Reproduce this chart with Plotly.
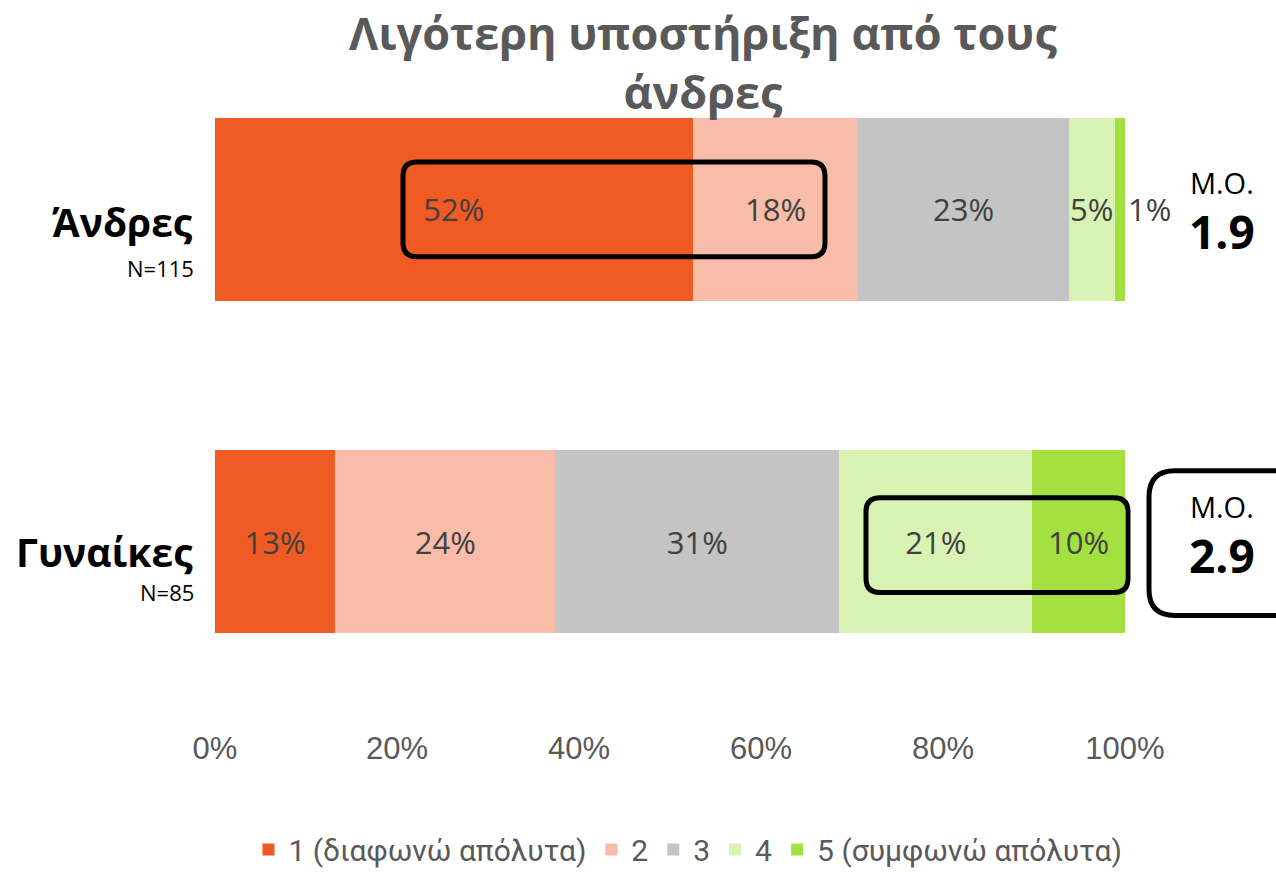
import plotly.graph_objects as go

categories = ["Άνδρες", "Γυναίκες"]
sample_sizes = ["N=115", "N=85"]
series_names = ["1 (διαφωνώ απόλυτα)", "2", "3", "4", "5 (συμφωνώ απόλυτα)"]
colors = ["#F05B24", "#F8BCA8", "#C4C4C4", "#D8F3B4", "#A3E040"]
values = [
    [52.5, 13.2],
    [18.2, 24.2],
    [23.1, 31.2],
    [5.1, 21.2],
    [1.1, 10.2],
]
means = ["1.9", "2.9"]
title_text = "Λιγότερη υποστήριξη από τους<br>άνδρες"
tick_vals = [0, 20, 40, 60, 80, 100]
tick_text = ["0%", "20%", "40%", "60%", "80%", "100%"]

W, H = 1276, 872
L, R, T, B = 215, 1125, 43, 708.5


def px2x(px):
    return (px - L) / (R - L)


def px2y(py):
    return (B - py) / (B - T)


def rounded_rect(x0, y0, x1, y1, r):
    def P(px, py):
        return f"{px2x(px):.5f},{px2y(py):.5f}"
    return (f"M {P(x0 + r, y0)} L {P(x1 - r, y0)} Q {P(x1, y0)} {P(x1, y0 + r)} "
            f"L {P(x1, y1 - r)} Q {P(x1, y1)} {P(x1 - r, y1)} "
            f"L {P(x0 + r, y1)} Q {P(x0, y1)} {P(x0, y1 - r)} "
            f"L {P(x0, y0 + r)} Q {P(x0, y0)} {P(x0 + r, y0)} Z")


fig = go.Figure()
for i, (name, vals) in enumerate(zip(series_names, values)):
    tp = ["outside", "inside"] if i == len(series_names) - 1 else "inside"
    fig.add_trace(go.Bar(
        y=categories, x=vals, name=name, orientation="h",
        marker=dict(color=colors[i], line=dict(width=0)),
        text=[f"{v:.0f}%" for v in vals],
        textposition=tp,
        insidetextanchor="middle",
        textangle=0,
        textfont=dict(family="Open Sans", size=31, color="#404040"),
        cliponaxis=False,
        hoverinfo="skip",
    ))

annotations = []
label_pos = [(222, 268), (552, 592)]
for cat, n, (yc, yn) in zip(categories, sample_sizes, label_pos):
    annotations.append(dict(xref="paper", yref="paper", x=px2x(195), y=px2y(yc),
                            xanchor="right", yanchor="middle", showarrow=False,
                            text=f"<b>{cat}</b>",
                            font=dict(family="Open Sans", size=39, color="#000000")))
    annotations.append(dict(xref="paper", yref="paper", x=px2x(196), y=px2y(yn),
                            xanchor="right", yanchor="middle", showarrow=False,
                            text=n,
                            font=dict(family="Open Sans", size=22, color="#000000")))

mean_centers = [213, 537]
for m, yc in zip(means, mean_centers):
    annotations.append(dict(xref="paper", yref="paper", x=px2x(1222), y=px2y(yc),
                            xanchor="center", yanchor="middle", showarrow=False,
                            text=("<span style='font-size:29px'>Μ.Ο.</span><br>"
                                  f"<span style='font-size:46px'><b>{m}</b></span>"),
                            font=dict(family="Open Sans", size=42, color="#000000")))

annotations.append(dict(xref="paper", yref="paper", x=px2x(703), y=px2y(62),
                        xanchor="center", yanchor="middle", showarrow=False,
                        text=f"<b>{title_text}</b>",
                        font=dict(family="Open Sans", size=45, color="#595959")))

shapes = [
    dict(type="path", xref="paper", yref="paper",
         path=rounded_rect(403, 162, 825, 257, 14),
         line=dict(color="#000000", width=5)),
    dict(type="path", xref="paper", yref="paper",
         path=rounded_rect(866, 498, 1128, 593, 14),
         line=dict(color="#000000", width=5)),
    dict(type="path", xref="paper", yref="paper",
         path=rounded_rect(1149, 471, 1300, 616, 26),
         line=dict(color="#000000", width=5)),
]

fig.update_layout(
    width=W, height=H,
    margin=dict(l=L, r=W - R, t=T, b=H - B, pad=0, autoexpand=False),
    barmode="stack", bargap=0.45,
    plot_bgcolor="#FFFFFF", paper_bgcolor="#FFFFFF",
    uniformtext=dict(minsize=31, mode="show"),
    xaxis=dict(range=[0, 100], tickvals=tick_vals, ticktext=tick_text,
               showgrid=False, zeroline=False, showline=False, ticks="",
               ticklabelstandoff=19,
               tickfont=dict(family="Liberation Sans", size=31, color="#595959")),
    yaxis=dict(range=[1.5, -0.5], showticklabels=False, showgrid=False,
               zeroline=False, showline=False, ticks=""),
    showlegend=True,
    legend=dict(orientation="h", x=px2x(688), y=px2y(850), xanchor="center",
                yanchor="middle", traceorder="normal",
                font=dict(family="Roboto", size=30, color="#595959"),
                itemsizing="constant"),
    annotations=annotations,
    shapes=shapes,
)

fig.write_html("out.html", config={"displayModeBar": False},
               post_script="document.body.style.margin='0';")
